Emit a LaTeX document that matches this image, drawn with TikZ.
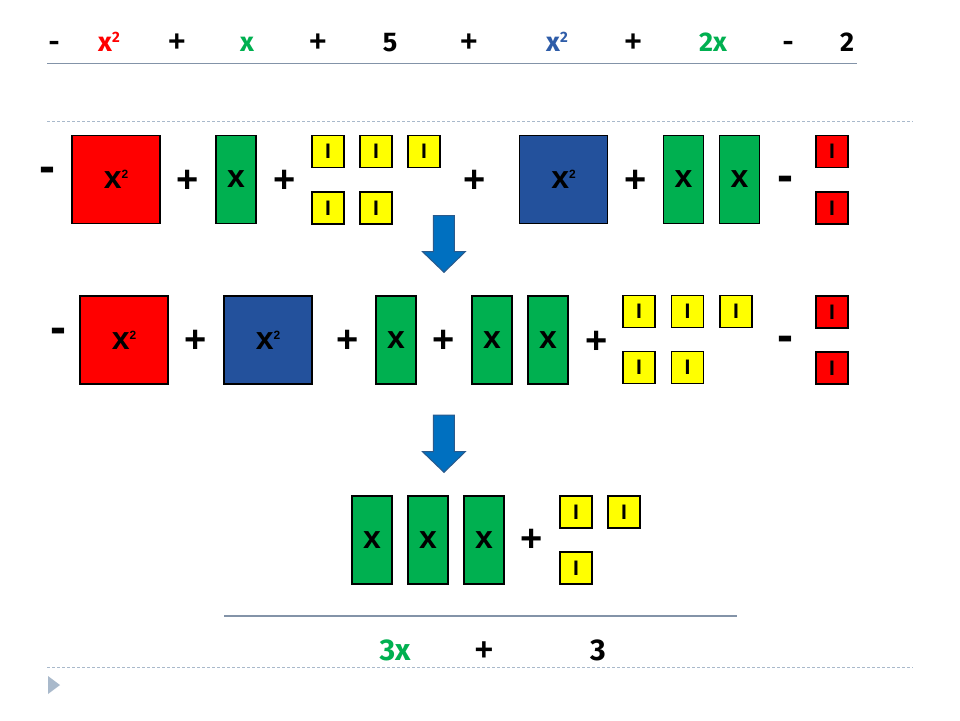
\documentclass[tikz,border=0pt]{standalone}
\usepackage{fontspec}
\setmainfont{Liberation Sans}
\newfontfamily\eqfont{Fira Sans}
\definecolor{tred}{HTML}{FF0000}
\definecolor{tgreen}{HTML}{00B050}
\definecolor{tblue}{HTML}{23519C}
\definecolor{tyellow}{HTML}{FFFF00}
\definecolor{eqblue}{HTML}{2E5CA8}
\definecolor{arrowblue}{HTML}{0070C0}
\definecolor{arrowedge}{HTML}{2A5A8C}
\definecolor{rulecol}{HTML}{8393A8}
\definecolor{dashcol}{HTML}{A9B9CB}
\newcommand{\tsq}{\raisebox{10pt}{\fontsize{12}{12}\selectfont 2}}
\newcommand{\esq}{\raisebox{9pt}{\fontsize{15}{15}\selectfont 2}}
\tikzset{
  tile/.style={draw=black, line width=1.5pt, inner sep=0pt, font=\bfseries\fontsize{32}{32}\selectfont},
  bigsq/.style={tile, minimum width=88pt, minimum height=88pt},
  rod/.style={tile, fill=tgreen, minimum width=40pt, minimum height=88pt},
  unitsq/.style={tile, minimum width=32pt, minimum height=32pt, font=\bfseries\fontsize{21}{21}\selectfont},
  plussign/.style={font=\bfseries\fontsize{38}{38}\selectfont, inner sep=0pt},
  minussign/.style={font=\bfseries\fontsize{48}{48}\selectfont, inner sep=0pt},
  eqtext/.style={font=\eqfont\bfseries\fontsize{27}{27}\selectfont, anchor=base, inner sep=0pt},
  eqop/.style={font=\bfseries\fontsize{30}{30}\selectfont, anchor=base, inner sep=0pt},
  bottext/.style={font=\eqfont\bfseries\fontsize{30}{30}\selectfont, anchor=base, inner sep=0pt},
  botop/.style={font=\bfseries\fontsize{32}{32}\selectfont, anchor=base, inner sep=0pt},
  solidrule/.style={draw=rulecol, line width=1.2pt},
  dashrule/.style={draw=dashcol, line width=0.9pt, dash pattern=on 3pt off 2pt},
  bluearrow/.style={fill=arrowblue, draw=arrowedge, line width=1pt, line join=miter}
}
\begin{document}
\begin{tikzpicture}[x=1pt,y=-1pt]
\useasboundingbox (0,0) rectangle (960,720);
\fill[white] (0,0) rectangle (960,720);

% top equation
\node[eqtext] (e1) at (54,51.7) {-};
\node[eqtext, text=tred] (e2) at (109,51.7) {x\esq};
\node[eqop] (e3) at (177,51.7) {+};
\node[eqtext, text=tgreen] (e4) at (247,51.7) {x};
\node[eqop] (e5) at (318,51.7) {+};
\node[eqtext] (e6) at (390,51.7) {5};
\node[eqop] (e7) at (469,51.7) {+};
\node[eqtext, text=eqblue] (e8) at (557,51.7) {x\esq};
\node[eqop] (e9) at (633,51.7) {+};
\node[eqtext, text=tgreen] (e10) at (713,51.7) {2x};
\node[eqtext] (e11) at (788,51.7) {-};
\node[eqtext] (e12) at (847,51.7) {2};
\draw[solidrule] (47,63.5) -- (857,63.5);
\draw[dashrule] (47,121) -- (913,121);

% row 1
\node[minussign] (r1m1) at (47,175) {-};
\node[bigsq, fill=tred] (r1a) at (116,179.5) {x\tsq};
\node[plussign] (r1p1) at (188,181) {+};
\node[rod] (r1b) at (236,179.5) {x};
\node[plussign] (r1p2) at (285,181) {+};
\node[unitsq, fill=tyellow] (r1y1) at (328,151.7) {I};
\node[unitsq, fill=tyellow] (r1y2) at (376,151.7) {I};
\node[unitsq, fill=tyellow] (r1y3) at (424,151.7) {I};
\node[unitsq, fill=tyellow] (r1y4) at (328,208) {I};
\node[unitsq, fill=tyellow] (r1y5) at (376,208) {I};
\node[plussign] (r1p3) at (475,181) {+};
\node[bigsq, fill=tblue] (r1c) at (563.5,179.5) {x\tsq};
\node[plussign] (r1p4) at (636,181) {+};
\node[rod] (r1d) at (683.5,179.5) {x};
\node[rod] (r1e) at (739.5,179.5) {x};
\node[minussign] (r1m2) at (785,184) {-};
\node[unitsq, fill=tred] (r1r1) at (832,151.7) {I};
\node[unitsq, fill=tred] (r1r2) at (832,208) {I};

% arrow 1
\draw[bluearrow] (433.3,215.7) -- (454.3,215.7) -- (454.3,251.7) -- (465.3,251.7)
  -- (444,272.3) -- (422.5,251.7) -- (433.3,251.7) -- cycle;

% row 2
\node[minussign] (r2m1) at (58,336) {-};
\node[bigsq, fill=tred] (r2a) at (124,340) {x\tsq};
\node[plussign] (r2p1) at (196,341) {+};
\node[bigsq, fill=tblue] (r2b) at (268,340) {x\tsq};
\node[plussign] (r2p2) at (348,341) {+};
\node[rod] (r2c) at (396,340) {x};
\node[plussign] (r2p3) at (444,341) {+};
\node[rod] (r2d) at (492,340) {x};
\node[rod] (r2e) at (548,340) {x};
\node[plussign] (r2p4) at (597,342) {+};
\node[unitsq, fill=tyellow] (r2y1) at (639,311.7) {I};
\node[unitsq, fill=tyellow] (r2y2) at (687.5,311.7) {I};
\node[unitsq, fill=tyellow] (r2y3) at (736,311.7) {I};
\node[unitsq, fill=tyellow] (r2y4) at (639,367.5) {I};
\node[unitsq, fill=tyellow] (r2y5) at (687.5,367.5) {I};
\node[minussign] (r2m2) at (785,344) {-};
\node[unitsq, fill=tred] (r2r1) at (832,312) {I};
\node[unitsq, fill=tred] (r2r2) at (832,368) {I};

% arrow 2
\draw[bluearrow] (433.3,415) -- (454.3,415) -- (454.3,451.7) -- (465.3,451.7)
  -- (444,472.3) -- (422.5,451.7) -- (433.3,451.7) -- cycle;

% row 3
\node[rod] (r3a) at (372,540) {x};
\node[rod] (r3b) at (428,540) {x};
\node[rod] (r3c) at (484,540) {x};
\node[plussign] (r3p) at (532,540) {+};
\node[unitsq, fill=tyellow] (r3y1) at (576,512) {I};
\node[unitsq, fill=tyellow] (r3y2) at (624,512) {I};
\node[unitsq, fill=tyellow] (r3y3) at (576,568) {I};

% result
\draw[solidrule] (224,616) -- (737,616);
\node[bottext, text=tgreen] (f1) at (395,660) {3x};
\node[botop] (f2) at (484,660) {+};
\node[bottext] (f3) at (598,660) {3};
\draw[dashrule] (47,667.5) -- (913,667.5);
\fill[dashcol] (48,676) -- (60,685) -- (48,694) -- cycle;
\end{tikzpicture}
\end{document}
